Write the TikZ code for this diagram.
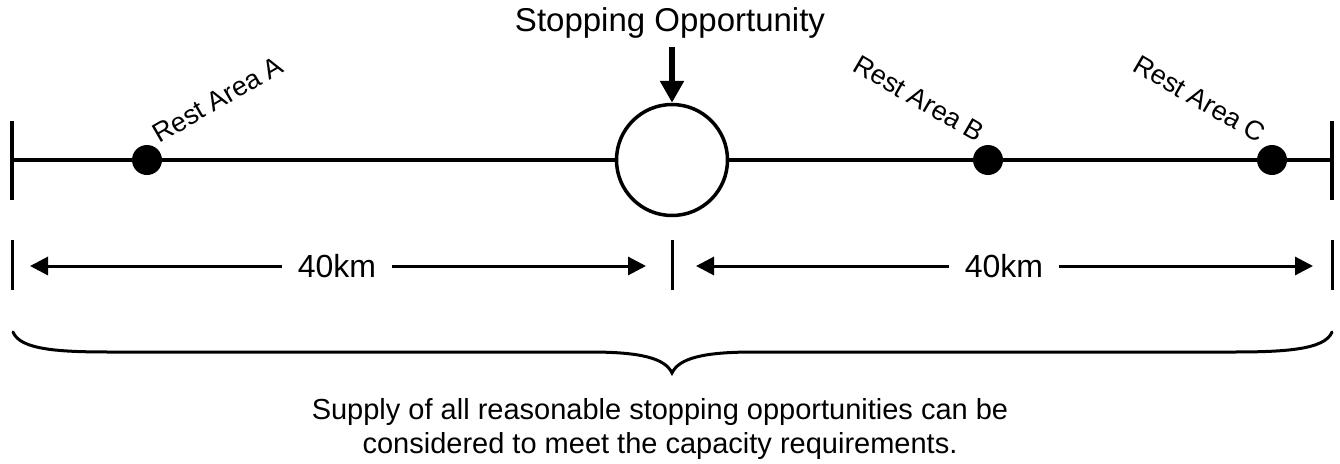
\documentclass[tikz,border=0pt]{standalone}
\usepackage{fontspec}
\setmainfont{Liberation Sans}
\usetikzlibrary{arrows.meta}
\begin{document}
\begin{tikzpicture}[x=1pt,y=-1pt,
  mainline/.style={line width=4pt},
  tickmark/.style={line width=4pt},
  dimtick/.style={line width=3pt},
  dimarrow/.style={line width=3pt,-{Triangle[length=18pt,width=18pt]}},
  dot/.style={circle,fill=black,minimum size=30pt,inner sep=0pt},
  lbl/.style={font=\fontsize{27}{30}\selectfont,anchor=base west,inner sep=0pt},
  dimlbl/.style={font=\fontsize{32}{36}\selectfont,inner xsep=16pt,inner ysep=0pt,fill=white}]
\useasboundingbox (0,0) rectangle (1340,463);
% main line
\coordinate (L) at (12,160);
\coordinate (R) at (1332,160);
\node[circle,draw,line width=3.5pt,minimum size=111pt,inner sep=0pt,fill=white] (S) at (672,160) {};
\draw[mainline] (L) -- (S.west);
\draw[mainline] (S.east) -- (R);
\coordinate (Lt) at (12,121); \coordinate (Lb) at (12,200);
\coordinate (Rt) at (1332,121); \coordinate (Rb) at (1332,200);
\draw[tickmark] (Lt) -- (Lb);
\draw[tickmark] (Rt) -- (Rb);
\node[dot] (A) at (147,160) {};
\node[dot] (B) at (988,160) {};
\node[dot] (C) at (1272,160) {};
% labels
\node[lbl,rotate=30] (la) at (159,144) {Rest Area A};
\node[lbl,rotate=-30] (lb) at (851,70) {Rest Area B};
\node[lbl,rotate=-30] (lc) at (1131,70) {Rest Area C};
% stopping opportunity
\node[font=\fontsize{33}{36}\selectfont,anchor=base,inner sep=0pt] (T) at (670,31) {Stopping Opportunity};
\coordinate (Ta) at (672,47);
\draw[line width=6pt,-{Triangle[length=22pt,width=23pt]}] (Ta) -- (S.north);
% dimension row
\coordinate (D1t) at (12,240); \coordinate (D1b) at (12,290);
\coordinate (D2t) at (672,240); \coordinate (D2b) at (672,290);
\coordinate (D3t) at (1332,240); \coordinate (D3b) at (1332,290);
\draw[dimtick] (D1t) -- (D1b);
\draw[dimtick] (D2t) -- (D2b);
\draw[dimtick] (D3t) -- (D3b);
\node[dimlbl] (K1) at (337,266) {40km};
\node[dimlbl] (K2) at (1004,266) {40km};
\coordinate (P1) at (30,266); \coordinate (P2) at (646,266);
\coordinate (P3) at (696,266); \coordinate (P4) at (1313,266);
\draw[dimarrow] (K1.west) -- (P1);
\draw[dimarrow] (K1.east) -- (P2);
\draw[dimarrow] (K2.west) -- (P3);
\draw[dimarrow] (K2.east) -- (P4);
% brace
\draw[line width=3pt,line cap=round] (13,332) .. controls (20,350) and (60,352) .. (111,352) -- (590,352) .. controls (640,352) and (665,358) .. (672,373) .. controls (679,358) and (704,352) .. (754,352) -- (1232,352) .. controls (1283,352) and (1325,350) .. (1332,332);
% bottom text
\node[font=\fontsize{29}{34}\selectfont,align=center,anchor=base,inner sep=0pt] (N) at (660,453) {Supply of all reasonable stopping opportunities can be\\considered to meet the capacity requirements.};
\end{tikzpicture}
\end{document}
